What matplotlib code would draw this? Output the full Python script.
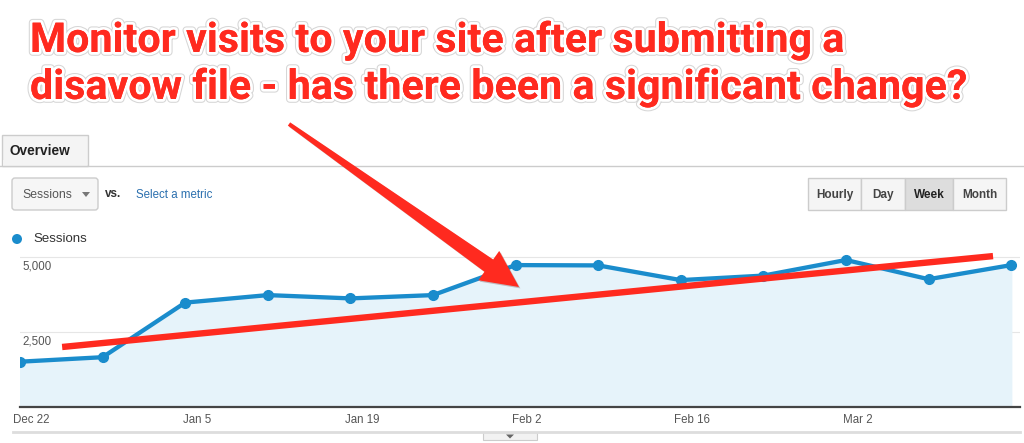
import matplotlib
matplotlib.use('Agg')
import matplotlib.pyplot as plt
import matplotlib.patheffects as pe
from matplotlib.patches import Rectangle, FancyBboxPatch, Polygon, Circle
import numpy as np

# weekly sessions
weeks = list(range(13))
sessions = [1510, 1660, 3480, 3730, 3620, 3730, 4730, 4720, 4230, 4380, 4900, 4260, 4730]
tick_idx = [0, 2, 4, 6, 8, 10]
tick_labels = ['Dec 22', 'Jan 5', 'Jan 19', 'Feb 2', 'Feb 16', 'Mar 2']
y_ticks = [2500, 5000]
y_tick_labels = ['2,500', '5,000']
# hand-drawn trend line (start / end in data units)
trend_x = [0.51, 11.78]
trend_y = [2000, 5030]

title_lines = ['Monitor visits to your site after submitting a',
               'disavow file - has there been a significant change?']
buttons = ['Hourly', 'Day', 'Week', 'Month']
button_edges = [808, 861, 905, 953, 1006]

W, H = 1024, 443
fig = plt.figure(figsize=(W / 100, H / 100), dpi=100)
fig.patch.set_facecolor('white')

def fx(px):
    return px / W

def fy(py):
    return 1 - py / H

UI = ['Liberation Sans', 'DejaVu Sans']
BLUE = '#1a8ccc'
RED = '#ff2a1f'

# chart axes: left 20px, right 1020px, bottom 407px, top 250px
ax = fig.add_axes([fx(20), fy(407), fx(1000), (407 - 250) / H])
ax.set_facecolor('none')
ax.set_xlim(0, 1000 / 82.6)
ax.set_ylim(0, (407 - 250) / 150 * 5000)
ax.fill_between(weeks, sessions, 0, color='#e6f3fa', zorder=1)
ax.plot(weeks, sessions, color=BLUE, lw=3.1, marker='o', ms=7, zorder=3,
        solid_capstyle='round')
for v in y_ticks:
    ax.axhline(v, color='#e6e6e6', lw=0.8, zorder=0)
for v, lab in zip(y_ticks, y_tick_labels):
    ax.text(0.03, v - 120, lab, ha='left', va='top', fontsize=8.3,
            color='#555555', family=UI, zorder=4)
ax.plot(trend_x, trend_y, color=RED, lw=4.6, solid_capstyle='butt',
        zorder=5, clip_on=False)
for s in ['top', 'right', 'left']:
    ax.spines[s].set_visible(False)
ax.spines['bottom'].set_color('#444444')
ax.spines['bottom'].set_linewidth(1.6)
ax.set_yticks([])
ax.set_xticks([])
for i, lab in zip(tick_idx, tick_labels):
    ax.text(i + 0.14 if i else -0.08, -420, lab, ha='center' if i else 'left',
            va='center', fontsize=8.3, color='#555555', family=UI,
            clip_on=False)

# overlay in pixel coordinates for the page furniture
ov = fig.add_axes([0, 0, 1, 1])
ov.set_xlim(0, W)
ov.set_ylim(H, 0)
ov.axis('off')

# tab
ov.add_patch(Rectangle((2, 135), 86, 31, fc='#f4f4f4', ec='#cccccc', lw=1))
ov.plot([0, W], [166, 166], color='#cccccc', lw=1)
ov.add_patch(Rectangle((3, 160), 84, 8, fc='#f4f4f4', ec='none'))
ov.text(10, 151, 'Overview', fontsize=9.8, fontweight='bold', color='#222222',
        va='center', family=UI)

# metric dropdown
ov.add_patch(FancyBboxPatch((12, 178), 86, 32, boxstyle='round,pad=0,rounding_size=3',
                            fc='#f6f6f6', ec='#cccccc', lw=1))
ov.text(22, 195, 'Sessions', fontsize=8.8, color='#555555', va='center', family=UI)
ov.add_patch(Polygon([[82, 192], [90, 192], [86, 197]], fc='#777777', ec='none'))
ov.text(105, 194, 'vs.', fontsize=8.5, fontweight='bold', color='#333333',
        va='center', family=UI)
ov.text(136, 195, 'Select a metric', fontsize=8.3, color='#2a6fae', va='center',
        family=UI)

# period buttons
for k, lab in enumerate(buttons):
    x0, x1 = button_edges[k], button_edges[k + 1]
    fc = '#dddddd' if lab == 'Week' else '#f5f5f5'
    ov.add_patch(Rectangle((x0, 178), x1 - x0, 32, fc=fc, ec='#cccccc', lw=1))
    ov.text((x0 + x1) / 2, 195, lab, fontsize=8.5, fontweight='bold',
            color='#222222' if lab == 'Week' else '#444444',
            ha='center', va='center', family=UI)

# legend
ov.add_patch(Circle((17, 239), 5, fc=BLUE, ec='none'))
ov.text(33, 239, 'Sessions', fontsize=9.5, color='#333333', va='center', family=UI)

# bottom scroller
ov.plot([13, 1020], [432, 432], color='#dddddd', lw=2)
ov.add_patch(Rectangle((483, 432), 54, 8, fc='#f2f2f2', ec='#cccccc', lw=0.8))
ov.add_patch(Polygon([[506, 434.5], [514, 434.5], [510, 438.5]], fc='#666666', ec='none'))

# red arrow (tapered shaft, thin at the top)
p0 = np.array([289.0, 124.0])
tip = np.array([519.0, 287.0])
d = tip - p0
u = d / np.hypot(*d)
n = np.array([-u[1], u[0]])
head_len, head_w = 37, 18
base = tip - u * head_len
arrow = [p0 + n * 2, base + n * 7.5, base + n * head_w, tip,
         base - n * head_w, base - n * 7.5, p0 - n * 2]
ov.add_patch(Polygon(arrow, closed=True, fc=RED, ec='none', zorder=6,
                     path_effects=[pe.SimplePatchShadow(offset=(1, -1), alpha=0.25),
                                   pe.Normal()]))

# title with white outline and soft shadow
tfam = ['Roboto', 'Liberation Sans', 'DejaVu Sans']
t1 = ov.text(30, 52, title_lines[0], fontsize=27, fontweight='bold', color=RED,
             va='baseline', family=tfam, zorder=7)
t2 = ov.text(30, 99, title_lines[1], fontsize=27, fontweight='bold', color=RED,
             va='baseline', family=tfam, zorder=7)
r = fig.canvas.get_renderer()
w2 = t2.get_window_extent(r).width
fs = 27 * 938 / w2
t1.set_fontsize(fs)
t2.set_fontsize(fs)
for t in (t1, t2):
    t.set_path_effects([pe.withStroke(linewidth=5.5, foreground='#bbbbbb', alpha=0.6),
                        pe.withStroke(linewidth=4, foreground='white'),
                        pe.Normal()])

fig.savefig('out.png', dpi=100)
